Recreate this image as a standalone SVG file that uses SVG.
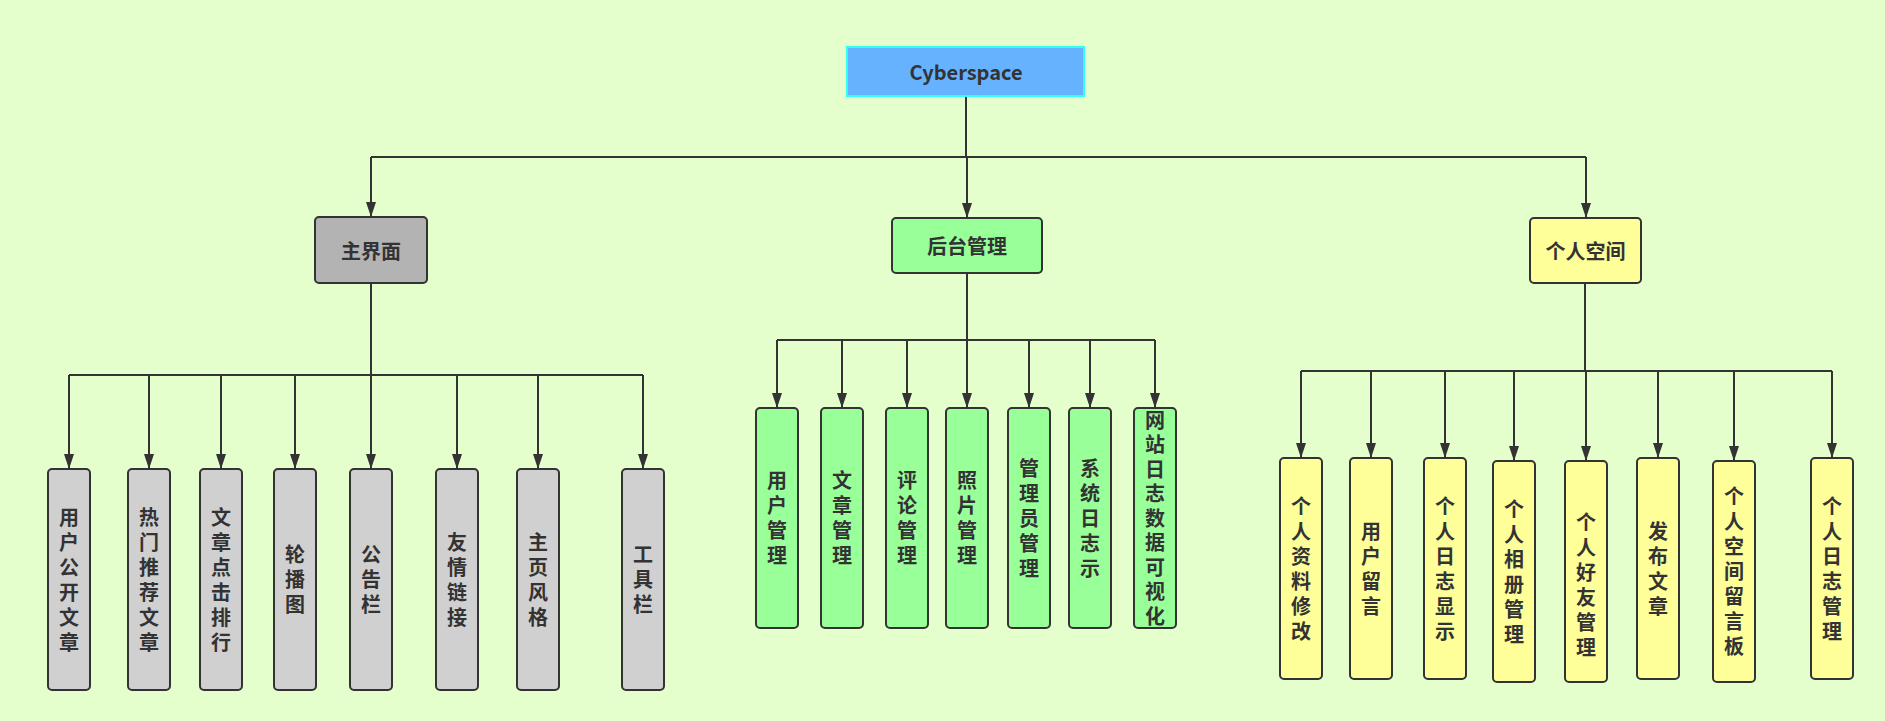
<svg xmlns="http://www.w3.org/2000/svg" width="1885" height="721" viewBox="0 0 1885 721">
<style>
.bg{fill:#E5FFCC}
.box{stroke:#333333;stroke-width:2}
.root{fill:#66B2FF;stroke:#33FFEE;stroke-width:2}
.gray2{fill:#B3B3B3}
.gray{fill:#D0D0D0}
.green{fill:#99FF99}
.yellow{fill:#FFFF99}
.t{font-family:"Noto Sans CJK SC","Microsoft YaHei","Noto Sans",sans-serif;font-weight:bold;fill:#333333;text-anchor:middle;dominant-baseline:central}
.t20{font-size:20px}
.v{font-family:"Noto Sans CJK SC","Microsoft YaHei",sans-serif;font-weight:bold;fill:#333333;font-size:20px;writing-mode:vertical-rl;text-anchor:middle;letter-spacing:5px}
.c{fill:none;stroke:#333333;stroke-width:2}
</style>
<defs>
<marker id="arr" viewBox="0 0 15 10" refX="15" refY="5" markerWidth="15" markerHeight="10" markerUnits="userSpaceOnUse" orient="auto">
<path d="M0,0 L15,5 L0,10 z" fill="#333333"/>
</marker>
</defs>
<rect class="bg" x="0" y="0" width="1885" height="721"/>

<g id="connectors">
<path class="c" d="M966,96 V157 M371,157 H1586"/>
<path class="c" d="M371,157 V217" marker-end="url(#arr)"/>
<path class="c" d="M967,157 V218" marker-end="url(#arr)"/>
<path class="c" d="M1586,157 V218" marker-end="url(#arr)"/>

<path class="c" d="M371,283 V375 M69,375 H643"/>
<path class="c" d="M69,375 V469" marker-end="url(#arr)"/>
<path class="c" d="M149,375 V469" marker-end="url(#arr)"/>
<path class="c" d="M221,375 V469" marker-end="url(#arr)"/>
<path class="c" d="M295,375 V469" marker-end="url(#arr)"/>
<path class="c" d="M371,375 V469" marker-end="url(#arr)"/>
<path class="c" d="M457,375 V469" marker-end="url(#arr)"/>
<path class="c" d="M538,375 V469" marker-end="url(#arr)"/>
<path class="c" d="M643,375 V469" marker-end="url(#arr)"/>

<path class="c" d="M967,273 V340 M777,340 H1155"/>
<path class="c" d="M777,340 V408" marker-end="url(#arr)"/>
<path class="c" d="M842,340 V408" marker-end="url(#arr)"/>
<path class="c" d="M907,340 V408" marker-end="url(#arr)"/>
<path class="c" d="M967,340 V408" marker-end="url(#arr)"/>
<path class="c" d="M1029,340 V408" marker-end="url(#arr)"/>
<path class="c" d="M1090,340 V408" marker-end="url(#arr)"/>
<path class="c" d="M1155,340 V408" marker-end="url(#arr)"/>

<path class="c" d="M1585,283 V371 M1301,371 H1832"/>
<path class="c" d="M1301,371 V458" marker-end="url(#arr)"/>
<path class="c" d="M1371,371 V458" marker-end="url(#arr)"/>
<path class="c" d="M1445,371 V458" marker-end="url(#arr)"/>
<path class="c" d="M1514,371 V461" marker-end="url(#arr)"/>
<path class="c" d="M1586,371 V461" marker-end="url(#arr)"/>
<path class="c" d="M1658,371 V458" marker-end="url(#arr)"/>
<path class="c" d="M1734,371 V461" marker-end="url(#arr)"/>
<path class="c" d="M1832,371 V458" marker-end="url(#arr)"/>
</g>

<g id="root">
<rect class="root" x="847" y="47" width="237" height="49"/>
<text class="t t20" x="966" y="71.5">Cyberspace</text>
</g>

<g id="n-main">
<rect class="box gray2" x="315" y="217" width="112" height="66" rx="4"/>
<text class="t t20" x="371" y="250">主界面</text>
</g>
<g id="n-admin">
<rect class="box green" x="892" y="218" width="150" height="55" rx="4"/>
<text class="t t20" x="967" y="245.5">后台管理</text>
</g>
<g id="n-space">
<rect class="box yellow" x="1530" y="218" width="111" height="65" rx="4"/>
<text class="t t20" x="1585.5" y="250.5">个人空间</text>
</g>

<!-- left group: box y 469..690, center 579.5 -->
<g id="l1"><rect class="box gray" x="48" y="469" width="42" height="221" rx="4"/><text class="v" x="69" y="582">用户公开文章</text></g>
<g id="l2"><rect class="box gray" x="128" y="469" width="42" height="221" rx="4"/><text class="v" x="149" y="582">热门推荐文章</text></g>
<g id="l3"><rect class="box gray" x="200" y="469" width="42" height="221" rx="4"/><text class="v" x="221" y="582">文章点击排行</text></g>
<g id="l4"><rect class="box gray" x="274" y="469" width="42" height="221" rx="4"/><text class="v" x="295" y="582">轮播图</text></g>
<g id="l5"><rect class="box gray" x="350" y="469" width="42" height="221" rx="4"/><text class="v" x="371" y="582">公告栏</text></g>
<g id="l6"><rect class="box gray" x="436" y="469" width="42" height="221" rx="4"/><text class="v" x="457" y="582">友情链接</text></g>
<g id="l7"><rect class="box gray" x="517" y="469" width="42" height="221" rx="4"/><text class="v" x="538" y="582">主页风格</text></g>
<g id="l8"><rect class="box gray" x="622" y="469" width="42" height="221" rx="4"/><text class="v" x="643" y="582">工具栏</text></g>

<!-- middle group: box y 408..628, center 518 -->
<g id="m1"><rect class="box green" x="756" y="408" width="42" height="220" rx="4"/><text class="v" x="777" y="520.5">用户管理</text></g>
<g id="m2"><rect class="box green" x="821" y="408" width="42" height="220" rx="4"/><text class="v" x="842" y="520.5">文章管理</text></g>
<g id="m3"><rect class="box green" x="886" y="408" width="42" height="220" rx="4"/><text class="v" x="907" y="520.5">评论管理</text></g>
<g id="m4"><rect class="box green" x="946" y="408" width="42" height="220" rx="4"/><text class="v" x="967" y="520.5">照片管理</text></g>
<g id="m5"><rect class="box green" x="1008" y="408" width="42" height="220" rx="4"/><text class="v" x="1029" y="520.5">管理员管理</text></g>
<g id="m6"><rect class="box green" x="1069" y="408" width="42" height="220" rx="4"/><text class="v" x="1090" y="520.5">系统日志示</text></g>
<g id="m7"><rect class="box green" x="1134" y="408" width="42" height="220" rx="4"/><text class="v" x="1155" y="520.5" style="letter-spacing:4.5px">网站日志数据可视化</text></g>

<!-- right group -->
<g id="r1"><rect class="box yellow" x="1280" y="458" width="42" height="221" rx="4"/><text class="v" x="1301" y="571">个人资料修改</text></g>
<g id="r2"><rect class="box yellow" x="1350" y="458" width="42" height="221" rx="4"/><text class="v" x="1371" y="571">用户留言</text></g>
<g id="r3"><rect class="box yellow" x="1424" y="458" width="42" height="221" rx="4"/><text class="v" x="1445" y="571">个人日志显示</text></g>
<g id="r4"><rect class="box yellow" x="1493" y="461" width="42" height="221" rx="4"/><text class="v" x="1514" y="574">个人相册管理</text></g>
<g id="r5"><rect class="box yellow" x="1565" y="461" width="42" height="221" rx="4"/><text class="v" x="1586" y="587">个人好友管理</text></g>
<g id="r6"><rect class="box yellow" x="1637" y="458" width="42" height="221" rx="4"/><text class="v" x="1658" y="571">发布文章</text></g>
<g id="r7"><rect class="box yellow" x="1713" y="461" width="42" height="221" rx="4"/><text class="v" x="1734" y="574">个人空间留言板</text></g>
<g id="r8"><rect class="box yellow" x="1811" y="458" width="42" height="221" rx="4"/><text class="v" x="1832" y="571">个人日志管理</text></g>
</svg>
